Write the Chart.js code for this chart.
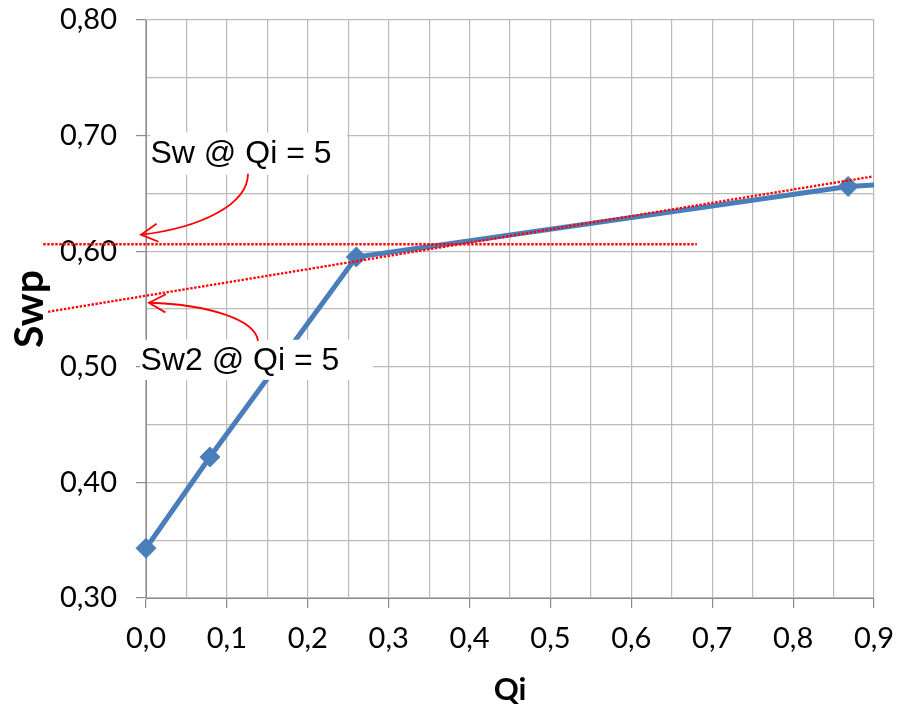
<!DOCTYPE html>
<html>
<head>
<meta charset="utf-8">
<script src="https://cdn.jsdelivr.net/npm/chart.js@4"></script>
<style>
  html, body { margin: 0; padding: 0; background: #fff; }
  #wrap { width: 900px; height: 709px; }
</style>
</head>
<body>
<div id="wrap"><canvas id="swpChart"></canvas></div>
<script>
// Swp vs Qi
var qiValues = [0, 0.079, 0.26, 0.868, 1.0];
var swpValues = [0.343, 0.422, 0.595, 0.656, 0.661];

// Sw @ Qi = 5 level (horizontal dotted line)
var swLevel = 0.606;
var swLevelFrom = -0.127;
var swLevelTo = 0.681;

// tangent through the late points, its intercept at Qi = 0 gives Sw2
var tangentIntercept = 0.5615;
var tangentSlope = 0.1148;
var tangentFrom = -0.121;
var tangentTo = 0.8975;

// label boxes: [x1, x2, y1, y2] in axis units, text anchor [x, y]
var labelTexts = ["Sw @ Qi = 5", "Sw2 @ Qi = 5"];
var labelBoxes = [[0.0049, 0.2485, 0.7026, 0.6662], [-0.0074, 0.2806, 0.5234, 0.4887]];
var labelAnchors = [[0.0056, 0.6766], [-0.0068, 0.4968]];

// curved arrows (cubic bezier points, last one is the tip)
var arrowPaths = [
  [[0.1261, 0.6671], [0.1261, 0.6403], [0.0668, 0.6203], [-0.0062, 0.6143]],
  [[0.1385, 0.5225], [0.1348, 0.5407], [0.0791, 0.5537], [0.0037, 0.5554]]
];

function isMajor(v) {
  return Math.abs(Math.round(v * 10) - v * 10) < 1e-6;
}

var notes = {
  id: "notes",
  afterDatasetsDraw: function (chart) {
    var c = chart.ctx;
    var xs = chart.scales.x, ys = chart.scales.y;
    var px = function (v) { return xs.getPixelForValue(v); };
    var py = function (v) { return ys.getPixelForValue(v); };
    c.save();

    // white label boxes with text
    for (var i = 0; i < labelTexts.length; i++) {
      var b = labelBoxes[i];
      c.fillStyle = "#ffffff";
      c.fillRect(px(b[0]), py(b[2]), px(b[1]) - px(b[0]), py(b[3]) - py(b[2]));
      c.fillStyle = "#000000";
      c.font = '32px "Liberation Sans", Arial, sans-serif';
      c.textAlign = "left";
      c.textBaseline = "alphabetic";
      c.fillText(labelTexts[i], px(labelAnchors[i][0]), py(labelAnchors[i][1]));
    }

    // dotted red lines
    c.strokeStyle = "#ff0000";
    c.lineWidth = 2.3;
    c.setLineDash([2.4, 1.6]);
    c.beginPath();
    c.moveTo(px(swLevelFrom), py(swLevel));
    c.lineTo(px(swLevelTo), py(swLevel));
    c.stroke();
    c.beginPath();
    c.moveTo(px(tangentFrom), py(tangentIntercept + tangentSlope * tangentFrom));
    c.lineTo(px(tangentTo), py(tangentIntercept + tangentSlope * tangentTo));
    c.stroke();
    c.setLineDash([]);

    // curved arrows
    c.lineWidth = 1.8;
    arrowPaths.forEach(function (p) {
      var pts = p.map(function (q) { return [px(q[0]), py(q[1])]; });
      c.beginPath();
      c.moveTo(pts[0][0], pts[0][1]);
      c.bezierCurveTo(pts[1][0], pts[1][1], pts[2][0], pts[2][1], pts[3][0], pts[3][1]);
      c.stroke();
      var tip = pts[3];
      var ang = Math.atan2(tip[1] - pts[2][1], tip[0] - pts[2][0]);
      var len = 19, spread = 0.5;
      c.beginPath();
      c.moveTo(tip[0] - len * Math.cos(ang - spread), tip[1] - len * Math.sin(ang - spread));
      c.lineTo(tip[0], tip[1]);
      c.lineTo(tip[0] - len * Math.cos(ang + spread), tip[1] - len * Math.sin(ang + spread));
      c.stroke();
    });
    c.restore();
  }
};

var ctx = document.getElementById("swpChart").getContext("2d");

var myChart = new Chart(ctx, {
  type: "line",
  data: {
    datasets: [
      {
        label: "Swp",
        data: qiValues.map(function (q, i) { return { x: q, y: swpValues[i] }; }),
        borderColor: "#4a7ebb",
        backgroundColor: "#4a7ebb",
        borderWidth: 5,
        pointStyle: "rectRot",
        pointRadius: 10,
        pointBorderWidth: 1,
        pointBackgroundColor: "#4a7ebb",
        pointBorderColor: "#4a7ebb",
        tension: 0,
        clip: { left: 14, top: 14, right: 0, bottom: 14 }
      }
    ]
  },
  options: {
    responsive: true,
    maintainAspectRatio: false,
    animation: false,
    events: [],
    layout: { padding: { top: 20, right: 26, left: 0, bottom: 0 } },
    plugins: {
      legend: { display: false },
      tooltip: { enabled: false }
    },
    scales: {
      x: {
        type: "linear",
        min: 0,
        max: 0.9,
        afterFit: function (s) {
          s.height = 111;
          s.paddingLeft = 0;
          s.paddingRight = 0;
        },
        border: { color: "#8c8c8c", width: 1 },
        grid: {
          color: "#bababa",
          lineWidth: 1.2,
          tickLength: 10,
          tickColor: function (c) { return isMajor(c.tick.value) ? "#8c8c8c" : "rgba(0,0,0,0)"; }
        },
        ticks: {
          stepSize: 0.05,
          autoSkip: false,
          maxRotation: 0,
          padding: 13,
          color: "#000",
          font: { family: "Lato", size: 29 },
          callback: function (v) { return isMajor(v) ? v.toFixed(1).replace(".", ",") : ""; }
        },
        title: {
          display: true,
          text: "Qi",
          color: "#000",
          font: { family: "Lato", size: 31, weight: "bold" },
          padding: { top: 0, bottom: 0 }
        }
      },
      y: {
        type: "linear",
        min: 0.3,
        max: 0.8,
        afterFit: function (s) {
          s.width = 146;
          s.paddingTop = 0;
          s.paddingBottom = 0;
        },
        border: { color: "#8c8c8c", width: 1 },
        grid: {
          color: "#bababa",
          lineWidth: 1.2,
          tickLength: 10,
          tickColor: function (c) { return isMajor(c.tick.value) ? "#8c8c8c" : "rgba(0,0,0,0)"; }
        },
        ticks: {
          stepSize: 0.05,
          autoSkip: false,
          padding: 19,
          color: "#000",
          font: { family: "Lato", size: 29 },
          callback: function (v) { return isMajor(v) ? v.toFixed(2).replace(".", ",") : ""; }
        },
        title: {
          display: true,
          text: "Swp",
          color: "#000",
          font: { family: "Lato", size: 41, weight: "bold" },
          padding: { top: 5, bottom: 0 }
        }
      }
    }
  },
  plugins: [notes]
});
</script>
</body>
</html>
